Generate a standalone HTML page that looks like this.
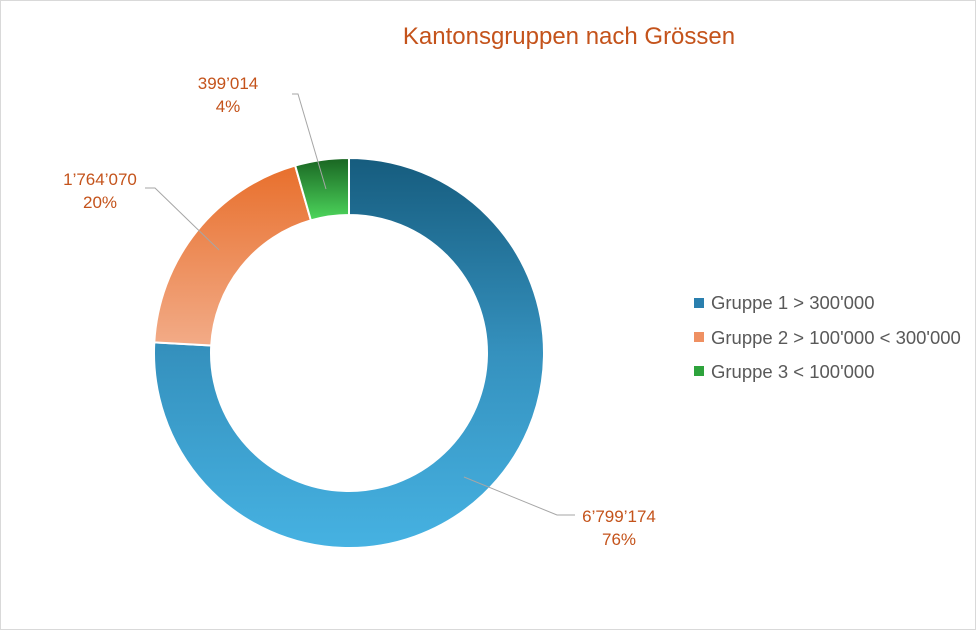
<!DOCTYPE html>
<html><head><meta charset="utf-8"><style>
html,body{margin:0;padding:0;background:#fff}
svg{display:block}
text{font-family:"Liberation Sans",Arial,sans-serif}
</style></head><body>
<svg width="977" height="631" viewBox="0 0 977 631" xmlns="http://www.w3.org/2000/svg">
<defs>
<linearGradient id="gb" gradientUnits="userSpaceOnUse" x1="0" y1="158" x2="0" y2="548"><stop offset="0" stop-color="#165c7e"/><stop offset="0.5" stop-color="#3591be"/><stop offset="1" stop-color="#46b2e2"/></linearGradient>
<linearGradient id="go" gradientUnits="userSpaceOnUse" x1="0" y1="165" x2="0" y2="345"><stop offset="0" stop-color="#e86f2c"/><stop offset="1" stop-color="#f2ab87"/></linearGradient>
<linearGradient id="gg" gradientUnits="userSpaceOnUse" x1="0" y1="158" x2="0" y2="220"><stop offset="0" stop-color="#196522"/><stop offset="1" stop-color="#4dd65c"/></linearGradient>
</defs>
<rect x="0.5" y="0.5" width="975" height="629" fill="#fff" stroke="#d9d9d9"/>
<text x="569" y="44" font-size="24" fill="#c4531b" text-anchor="middle">Kantonsgruppen nach Grössen</text>
<g stroke="#fff" stroke-width="2" stroke-linejoin="round">
<path id="pb" fill="url(#gb)"/>
<path id="po" fill="url(#go)"/>
<path id="pg" fill="url(#gg)"/>
</g>
<g fill="none" stroke="#a6a6a6" stroke-width="1">
<polyline points="292,94 298,94 326,189"/>
<polyline points="145,188 155,188 219,250"/>
<polyline points="464,477 557,515 575,515"/>
</g>
<g font-size="17" fill="#c4531b" text-anchor="middle">
<text x="228" y="89">399’014</text><text x="228" y="112">4%</text>
<text x="100" y="185">1’764’070</text><text x="100" y="208">20%</text>
<text x="619" y="522">6’799’174</text><text x="619" y="545">76%</text>
</g>
<g font-size="18.5" fill="#595959">
<rect x="694" y="298" width="10" height="10" fill="#2a7fae"/>
<text x="711" y="309">Gruppe 1 &gt; 300'000</text>
<rect x="694" y="332" width="10" height="10" fill="#ef9062"/>
<text x="711" y="344">Gruppe 2 &gt; 100'000 &lt; 300'000</text>
<rect x="694" y="366" width="10" height="10" fill="#2ea33c"/>
<text x="711" y="378">Gruppe 3 &lt; 100'000</text>
</g>
<script>
(function(){
var cx=349,cy=353,R=195,r=138;
function pt(a,rad){var t=(a-90)*Math.PI/180;return [cx+rad*Math.cos(t),cy+rad*Math.sin(t)];}
function arc(a0,a1){var l=(a1-a0)>180?1:0;var p0=pt(a0,R),p1=pt(a1,R),q1=pt(a1,r),q0=pt(a0,r);
return "M"+p0+" A"+R+","+R+" 0 "+l+" 1 "+p1+" L"+q1+" A"+r+","+r+" 0 "+l+" 0 "+q0+" Z";}
var t=6799174+1764070+399014,a1=6799174/t*360,a2=a1+1764070/t*360;
document.getElementById("pb").setAttribute("d",arc(0,a1));
document.getElementById("po").setAttribute("d",arc(a1,a2));
document.getElementById("pg").setAttribute("d",arc(a2,360));
})();
</script>
</svg>
</body></html>
